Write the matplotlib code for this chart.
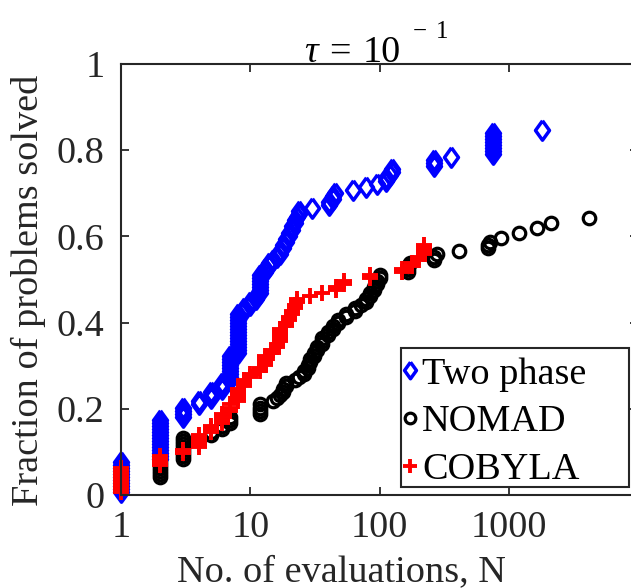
import matplotlib
matplotlib.use("Agg")
import matplotlib.pyplot as plt
from matplotlib.patches import Rectangle
import numpy as np

plt.rcParams['font.family'] = ['Liberation Serif', 'DejaVu Serif']
plt.rcParams['mathtext.fontset'] = 'custom'
plt.rcParams['mathtext.rm'] = 'Liberation Serif'
plt.rcParams['mathtext.it'] = 'Liberation Serif:italic'

# ---------------- data (evaluations N, fraction of problems solved) -----------
tp_x = [1, 2, 3, 4, 5, 6, 7, 8, 9, 10, 11, 12, 13, 14, 15, 16, 17, 18, 19, 20,
        21, 22, 23, 24, 30, 41, 44, 45, 62, 79, 95, 113, 120, 126, 265, 360,
        750, 1800]
tp_y = [[0.007, 0.014, 0.021, 0.028, 0.035, 0.042, 0.049, 0.056, 0.063, 0.070, 0.077],
        [0.084, 0.091, 0.098, 0.105, 0.112, 0.119, 0.126, 0.133, 0.140, 0.147, 0.154, 0.161, 0.168, 0.175],
        [0.182, 0.189, 0.196, 0.203],
        [0.210, 0.217],
        [0.224, 0.231, 0.238],
        [0.245, 0.252, 0.259],
        [0.266, 0.273, 0.280, 0.287, 0.294, 0.301, 0.308, 0.315, 0.322],
        [0.329, 0.336, 0.343, 0.350, 0.357, 0.364, 0.371, 0.378, 0.385, 0.392, 0.399, 0.406, 0.413, 0.420],
        [0.427, 0.434],
        [0.441, 0.448],
        [0.455, 0.462],
        [0.469, 0.476, 0.483, 0.490, 0.497, 0.504, 0.511],
        [0.518, 0.525],
        [0.532, 0.539],
        [0.546],
        [0.553],
        [0.560, 0.567],
        [0.574, 0.581],
        [0.588, 0.595],
        [0.602, 0.609],
        [0.616, 0.623],
        [0.630, 0.637],
        [0.644],
        [0.651, 0.658],
        [0.665],
        [0.672, 0.679],
        [0.686, 0.693],
        [0.700],
        [0.707],
        [0.714],
        [0.721],
        [0.728, 0.735],
        [0.742],
        [0.749, 0.756],
        [0.763, 0.770, 0.777],
        [0.784],
        [0.791, 0.798, 0.805, 0.812, 0.819, 0.826, 0.833, 0.840],
        [0.847]]

nomad_x = [2, 3, 5, 6, 7, 12, 15, 16, 17, 18, 19, 22, 24, 26, 28, 29, 31, 33,
           36, 40, 44, 48, 55, 65, 72, 79, 84, 90, 95, 100, 165, 171, 266, 277,
           415, 690, 710, 875, 1200, 1650, 2130, 4200]
nomad_y = [[0.042, 0.049, 0.056, 0.063, 0.070, 0.077],
           [0.084, 0.091, 0.098, 0.105, 0.112, 0.119, 0.126, 0.133],
           [0.140, 0.147],
           [0.154, 0.161],
           [0.168, 0.175, 0.182],
           [0.189, 0.196, 0.203, 0.210],
           [0.217],
           [0.224],
           [0.231],
           [0.238, 0.245],
           [0.252, 0.259],
           [0.266],
           [0.273],
           [0.280, 0.287],
           [0.294, 0.301],
           [0.308, 0.315],
           [0.322, 0.329],
           [0.336, 0.343],
           [0.350, 0.357, 0.364],
           [0.371, 0.378],
           [0.385, 0.392],
           [0.399, 0.406],
           [0.413, 0.420],
           [0.427, 0.434],
           [0.441],
           [0.448, 0.455],
           [0.462, 0.469],
           [0.476, 0.483],
           [0.490, 0.497],
           [0.504, 0.511],
           [0.518, 0.525, 0.532],
           [0.539],
           [0.546, 0.553],
           [0.560],
           [0.567],
           [0.574, 0.581],
           [0.588],
           [0.597],
           [0.609],
           [0.620],
           [0.630],
           [0.643]]

cob_x = [1, 2, 3, 4, 5, 6, 7, 8, 9, 10, 12, 13, 15, 16, 17, 19, 20, 21, 22,
         23, 29, 36, 46, 53, 84, 150, 180, 203, 222]
cob_y = [[0.007, 0.014, 0.021, 0.028, 0.035, 0.042, 0.049, 0.056, 0.063],
         [0.070, 0.077, 0.084, 0.091],
         [0.098, 0.105],
         [0.112, 0.119, 0.126, 0.133, 0.140],
         [0.147, 0.154, 0.161],
         [0.168, 0.175, 0.182, 0.189],
         [0.196, 0.203, 0.210],
         [0.217, 0.224, 0.231, 0.238, 0.245],
         [0.252, 0.259, 0.266],
         [0.273, 0.280],
         [0.287, 0.294],
         [0.301, 0.308, 0.315, 0.322],
         [0.329, 0.336],
         [0.343, 0.350],
         [0.357, 0.364, 0.371, 0.378, 0.385],
         [0.392, 0.399],
         [0.406, 0.413],
         [0.420, 0.427],
         [0.434, 0.441],
         [0.448, 0.455],
         [0.462],
         [0.469],
         [0.476, 0.483],
         [0.490, 0.497],
         [0.504, 0.511],
         [0.518, 0.525],
         [0.532, 0.539],
         [0.546, 0.553],
         [0.560, 0.567, 0.574, 0.581]]

series_labels = ['Two phase', 'NOMAD', 'COBYLA']
x_ticks = [1, 10, 100, 1000]
x_ticklabels = ['1', '10', '100', '1000']
y_ticks = [0, 0.2, 0.4, 0.6, 0.8, 1]
y_ticklabels = ['0', '0.2', '0.4', '0.6', '0.8', '1']


def flatten(xs, ys):
    fx, fy = [], []
    for x, yl in zip(xs, ys):
        for y in yl:
            fx.append(x)
            fy.append(y)
    return fx, fy


W, H = 631, 588
fig = plt.figure(figsize=(W / 100, H / 100), dpi=100)
L, R, T, B = 121, 638, 64, 495
ax = fig.add_axes([L / W, 1 - B / H, (R - L) / W, (B - T) / H])

gray = '#262626'
fs = 27.5

diamond = [(0, 1), (0.72, 0), (0, -1), (-0.72, 0), (0, 1)]

x, y = flatten(tp_x, tp_y)
ax.plot(x, y, linestyle='none', marker=diamond, ms=14, mew=2.5, mfc='none',
        mec='#0000ff', label=series_labels[0], clip_on=False)
x, y = flatten(nomad_x, nomad_y)
ax.plot(x, y, linestyle='none', marker='o', ms=9, mew=2.3, mfc='none',
        mec='black', label=series_labels[1], clip_on=False)
x, y = flatten(cob_x, cob_y)
ax.plot(x, y, linestyle='none', marker='+', ms=11.5, mew=2.8,
        mec='#ff0000', label=series_labels[2], clip_on=False)

ax.set_xscale('log')
ax.set_xlim(1, 1e4)
ax.set_ylim(0, 1)
ax.set_xticks(x_ticks)
ax.set_xticklabels(x_ticklabels)
ax.set_yticks(y_ticks)
ax.set_yticklabels(y_ticklabels)
ax.xaxis.set_minor_locator(matplotlib.ticker.LogLocator(base=10, subs=np.arange(2, 10)))
ax.xaxis.set_minor_formatter(matplotlib.ticker.NullFormatter())

ax.tick_params(axis='both', which='both', direction='in', top=True, right=True,
               colors=gray, labelcolor=gray, labelsize=fs)
ax.tick_params(axis='both', which='major', length=6, width=1.3)
ax.tick_params(axis='x', which='minor', length=3.5, width=1.1)
ax.tick_params(axis='x', which='major', pad=11)
ax.tick_params(axis='y', which='major', pad=12)
for s in ax.spines.values():
    s.set_color(gray)
    s.set_linewidth(1.5)

fig.text(341 / W, 1 - 581 / H, 'No. of evaluations, N', ha='center', va='baseline',
         fontsize=fs, color=gray)
fig.text(28 / W, 1 - 290 / H, 'Fraction of problems solved', ha='center', va='center',
         rotation=90, fontsize=fs, color=gray)

# title pieces: "τ = 10" with a detached superscript "-1"
fig.text(304 / W, 1 - 61.5 / H, r'$\tau$', ha='left', va='baseline', fontsize=fs, color='black')
fig.text(329 / W, 1 - 61.5 / H, '=', ha='left', va='baseline', fontsize=fs, color='black')
fig.text(363 / W, 1 - 61.5 / H, '10', ha='left', va='baseline', fontsize=fs, color='black')
fig.text(413 / W, 1 - 38 / H, '\u2212', ha='left', va='baseline', fontsize=18, color='black')
fig.text(436 / W, 1 - 38 / H, '1', ha='left', va='baseline', fontsize=18, color='black')

# legend: entries without frame, frame drawn as the reference box
leg = ax.legend(loc='upper left',
                bbox_to_anchor=((403 - L) / (R - L), (B - 357) / (B - T)),
                borderaxespad=0, fontsize=fs, handlelength=0.35, handletextpad=0.15,
                borderpad=0, labelspacing=0.34, frameon=False, markerscale=0.85)
ax.add_patch(Rectangle(((401 - L) / (R - L), (B - 487) / (B - T)),
                       (629 - 401) / (R - L), (487 - 348) / (B - T),
                       transform=ax.transAxes, fill=True, facecolor='white',
                       edgecolor=gray, linewidth=1.5, zorder=4.5, clip_on=False))
leg.set_zorder(5)

fig.savefig('out.png', dpi=100)
